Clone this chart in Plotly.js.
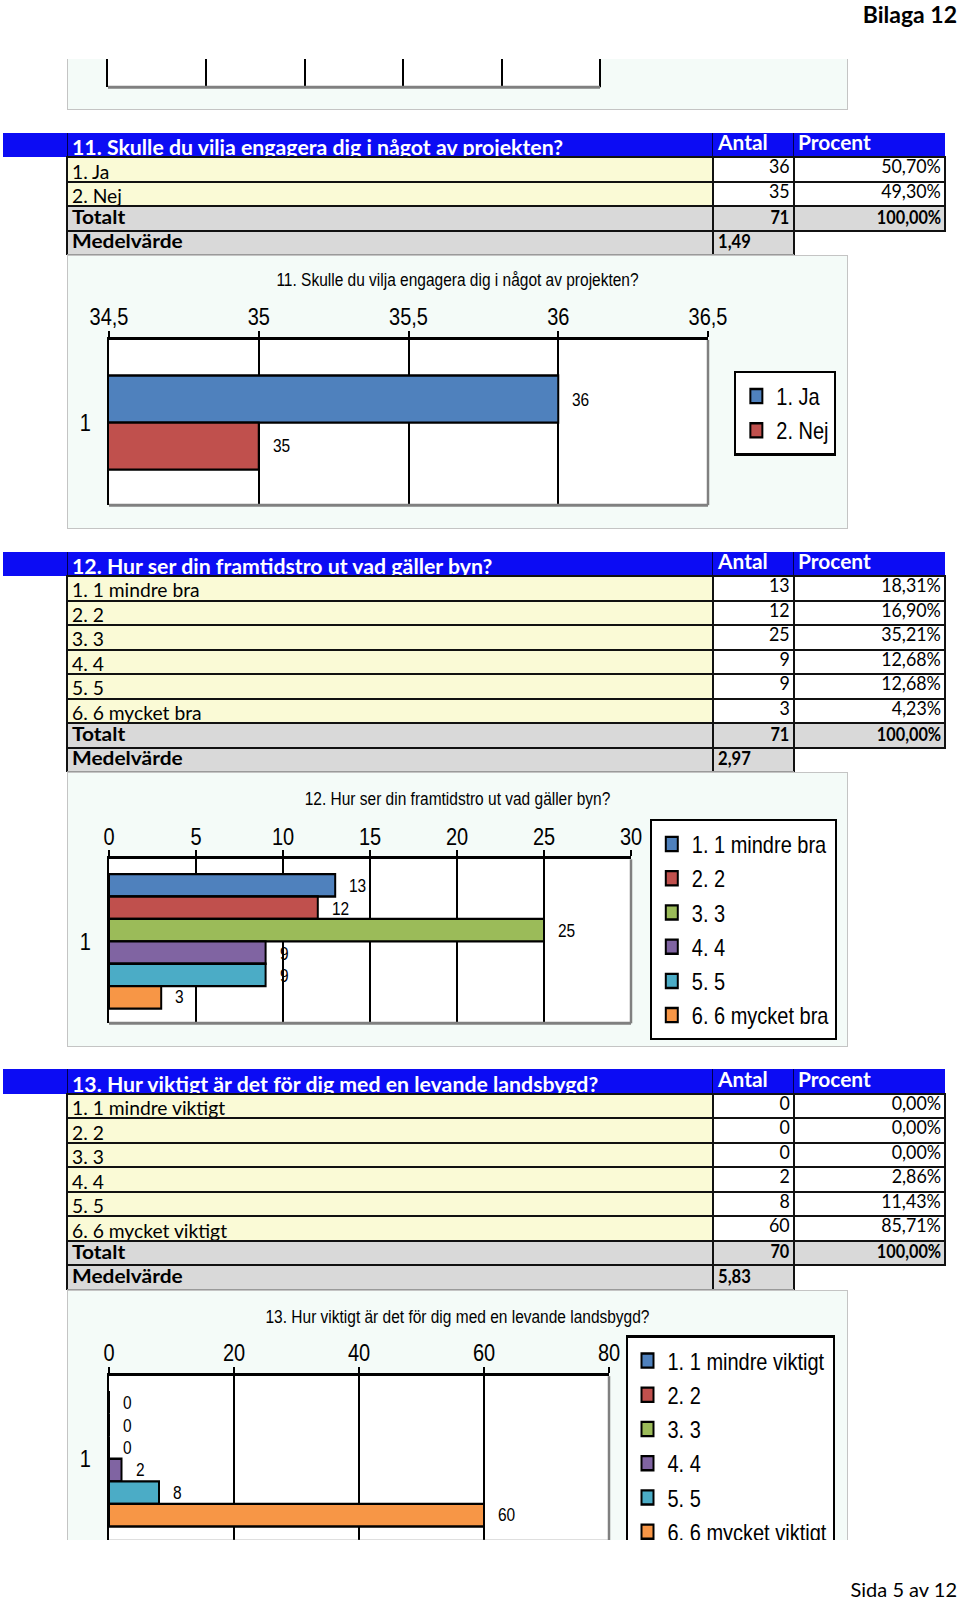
<!DOCTYPE html>
<html><head><meta charset="utf-8">
<script src="https://cdn.plot.ly/plotly-3.0.1.min.js"></script>
<style>
body{margin:0;background:#fff;}
#page{position:relative;width:960px;height:1601px;overflow:hidden;background:#fff;}
</style></head>
<body><div id="page"></div>
<script>
// ---------- DATA ----------
const q11Title = "11. Skulle du vilja engagera dig i något av projekten?";
const q11Labels = ["1. Ja", "2. Nej"];
const q11Counts = [36, 35];
const q11Pct = ["50,70%", "49,30%"];
const q11Total = 71, q11TotalPct = "100,00%", q11Mean = "1,49";
const q11Range = [34.5, 36.5], q11Dtick = 0.5;

const q12Title = "12. Hur ser din framtidstro ut vad gäller byn?";
const q12Labels = ["1. 1 mindre bra", "2. 2", "3. 3", "4. 4", "5. 5", "6. 6 mycket bra"];
const q12Counts = [13, 12, 25, 9, 9, 3];
const q12Pct = ["18,31%", "16,90%", "35,21%", "12,68%", "12,68%", "4,23%"];
const q12Total = 71, q12TotalPct = "100,00%", q12Mean = "2,97";
const q12Range = [0, 30], q12Dtick = 5;

const q13Title = "13. Hur viktigt är det för dig med en levande landsbygd?";
const q13Labels = ["1. 1 mindre viktigt", "2. 2", "3. 3", "4. 4", "5. 5", "6. 6 mycket viktigt"];
const q13Counts = [0, 0, 0, 2, 8, 60];
const q13Pct = ["0,00%", "0,00%", "0,00%", "2,86%", "11,43%", "85,71%"];
const q13Total = 70, q13TotalPct = "100,00%", q13Mean = "5,83";
const q13Range = [0, 80], q13Dtick = 20;

const categoryTick = ["1"];
const seriesColors = ["#4F81BD", "#C0504D", "#9BBB59", "#8064A2", "#4BACC6", "#F79646"];

// ---------- HELPERS ----------
const S = 1.18; // vertical stretch of the chart pictures
const page = document.getElementById('page');
const BLUE = '#0c0cf4', YEL = '#fafad6', GRAY = '#d9d9d9', MINT = '#f4fbf8';
const TFONT = "Lato, 'Open Sans', sans-serif";
function el(css, parent) { const e = document.createElement('div'); Object.assign(e.style, css); (parent || page).appendChild(e); return e; }
function box(x, y, w, h, bg, parent) { return el({position:'absolute', left:x+'px', top:y+'px', width:w+'px', height:h+'px', background:bg}, parent); }
function txt(s, x, yc, o) {
  const sx = o.sx || 1, sy = o.sy || 1;
  const right = o.align === 'right';
  const css = {position:'absolute', top:yc+'px', whiteSpace:'nowrap', lineHeight:'1',
    fontFamily:o.font || TFONT, fontSize:o.size+'px', fontWeight:o.bold ? '700' : '400',
    color:o.color || '#000', transformOrigin:(right ? 'right' : 'left') + ' center',
    transform:'translateY(-50%) scale(' + sx + ',' + sy + ')'};
  if (right) css.right = (960 - x) + 'px'; else css.left = x + 'px';
  const e = el(css); e.textContent = s; return e;
}

// ---------- TABLES ----------
const X0 = 67.4, X1 = 712.9, X2 = 793.6, X3 = 944.7, RH = 24.5;
const LAB = {size:18, sx:1.07, sy:1.05}, NUM = {size:17, sx:1.05, sy:1.08, align:'right'};
const BLAB = {size:18.5, sx:1.13, sy:1.05, bold:true}, BNUM = {size:17.5, sx:0.93, sy:1.05, bold:true, align:'right'};
function table(top, title, labels, counts, pcts, total, totalPct, mean) {
  box(3, top, X3 - 3, RH, BLUE);
  [X0, X1, X2].forEach(x => box(x - 0.5, top, 1, RH, '#000050'));
  txt(title, 71.5, top + 14.6, {size:19, sx:1.12, sy:1.08, bold:true, color:'#fff'});
  txt('Antal', 718, top + 9.5, {size:19, sx:1.1, sy:1.08, bold:true, color:'#fff'});
  txt('Procent', 797.6, top + 9.5, {size:19, sx:1.1, sy:1.08, bold:true, color:'#fff'});
  let y = top + RH;
  labels.forEach((lab, i) => {
    box(X0, y, X1 - X0, RH, YEL);
    box(X1, y, X3 - X1, RH, '#fff');
    txt(lab, 71.5, y + 14.4, LAB);
    txt(String(counts[i]), X2 - 4, y + 9, NUM);
    txt(pcts[i], X3 - 4, y + 9, NUM);
    y += RH;
  });
  box(X0, y, X3 - X0, RH, GRAY);
  txt('Totalt', 71.5, y + 11, BLAB);
  txt(String(total), X2 - 4, y + 10.5, BNUM);
  txt(totalPct, X3 - 4, y + 10.5, BNUM);
  y += RH;
  const medTop = y;
  box(X0, y, X2 - X0, RH, GRAY);
  txt('Medelvärde', 71.5, y + 10.5, BLAB);
  txt(mean, 718, y + 10.5, {size:17.5, sx:0.95, sy:1.05, bold:true});
  const bottom = y + RH;
  for (let k = 0; k <= labels.length + 1; k++) box(X0 - 1, top + RH * (k + 1) - 1, X3 - X0 + 2, 2, '#111');
  [X0, X1, X2, X3].forEach(x => box(x - 1, top + RH, 2, medTop - top - RH, '#111'));
  [X0, X1, X2].forEach(x => box(x - 1, medTop, 2, RH, '#111'));
  box(X0, bottom - 1, X2 - X0, 1, '#9a9a9a');
}

// ---------- CHARTS ----------
function chart(cfg) {
  const W = 781;
  const outer = el({position:'absolute', left:'67px', top:cfg.top+'px', width:W+'px', height:cfg.clip+'px', overflow:'hidden', background:MINT});
  const inner = el({position:'absolute', left:'0px', top:'0px', width:W+'px', height:(cfg.H/S)+'px', transform:'scaleY(' + S + ')', transformOrigin:'0 0'}, outer);
  el({position:'absolute', left:'0px', top:'0px', width:W+'px', height:cfg.H+'px', boxSizing:'border-box', border:'1.5px solid #c4c4c4', pointerEvents:'none'}, outer);
  const n = cfg.labels.length;
  const gap = cfg.bargap;
  const w = (1 - gap) / n;
  const traces = cfg.labels.map((lab, i) => ({
    type:'bar', orientation:'h', y:[0], x:[cfg.values[i]], name:lab,
    marker:{color:seriesColors[i], line:{color:'#000', width:2}}, hoverinfo:'skip'
  }));
  const annotations = cfg.values.map((v, i) => ({
    x:v, y:-(1 - gap) / 2 + w * (i + 0.5), xref:'x', yref:'y', text:String(v),
    showarrow:false, xanchor:'left', yanchor:'middle', xshift:12,
    font:{size:15.5, color:'#000', family:'Liberation Sans, Arial, sans-serif'}
  }));
  const layout = {
    width:W, height:cfg.H / S,
    margin:{l:cfg.l, r:cfg.r, t:cfg.t / S, b:cfg.b / S, pad:0, autoexpand:false},
    paper_bgcolor:'rgba(0,0,0,0)', plot_bgcolor:'#fff',
    font:{family:'Liberation Sans, Arial, sans-serif', color:'#000', size:20},
    separators:', ',
    title:{text:cfg.title, font:{size:15.5, color:'#000'}, x:0.5, xref:'container', xanchor:'center',
           y:1 - cfg.titleOff / cfg.H, yref:'container', yanchor:'middle'},
    barmode:'group', bargap:gap, bargroupgap:0,
    xaxis:{side:'top', range:cfg.range, tick0:cfg.range[0], dtick:cfg.dtick, showgrid:true, gridcolor:'#000', gridwidth:2,
           showline:true, linecolor:'#000', linewidth:2.5, ticks:'outside', ticklen:5, tickwidth:2, tickcolor:'#000',
           zeroline:false, tickfont:{size:20}, ticklabelstandoff:-3, fixedrange:true, automargin:false},
    yaxis:{range:[0.5, -0.5], tickvals:[0], ticktext:categoryTick, showline:true, linecolor:'#000', linewidth:2,
           ticks:'', showgrid:false, zeroline:false, tickfont:{size:20}, ticklabelstandoff:12, fixedrange:true, automargin:false},
    showlegend:true,
    legend:{x:cfg.lx, y:cfg.ly, xanchor:'left', yanchor:'top', bgcolor:'#fff', bordercolor:'#000', borderwidth:2,
            font:{size:20}, traceorder:'normal', itemwidth:30, maxheight:600},
    shapes:[
      {type:'line', xref:'paper', yref:'paper', x0:1, x1:1, y0:0, y1:1, line:{color:'#808080', width:2.5}, layer:'above'},
      {type:'line', xref:'paper', yref:'paper', x0:0, x1:1, y0:0, y1:0, line:{color:'#808080', width:2.5}, layer:'above'}
    ],
    annotations:annotations
  };
  Plotly.newPlot(inner, traces, layout, {staticPlot:true, displayModeBar:false});
}

// ---------- TOP FRAGMENT (previous chart, cut off) ----------
(function(){
  const outer = el({position:'absolute', left:'67px', top:'59px', width:'781px', height:'51px', overflow:'hidden', background:MINT,
    boxSizing:'border-box', borderLeft:'1.5px solid #c4c4c4', borderRight:'1.5px solid #c4c4c4', borderBottom:'1.5px solid #c4c4c4'});
  const inner = el({position:'absolute', left:'0px', top:'0px', width:'781px', height:(51/S)+'px', transform:'scaleY(' + S + ')', transformOrigin:'0 0'}, outer);
  Plotly.newPlot(inner, [], {
    width:781, height:51/S, margin:{l:40.2, r:248.5, t:0, b:22/S, pad:0, autoexpand:false},
    paper_bgcolor:'rgba(0,0,0,0)', plot_bgcolor:'#fff', showlegend:false,
    xaxis:{range:[0,5], dtick:1, showgrid:true, gridcolor:'#000', gridwidth:2, showticklabels:false, zeroline:false, showline:false, ticks:''},
    yaxis:{range:[0,1], showgrid:false, showticklabels:false, zeroline:false, showline:true, linecolor:'#000', linewidth:2, ticks:''},
    shapes:[
      {type:'line', xref:'paper', yref:'paper', x0:1, x1:1, y0:0, y1:1, line:{color:'#000', width:2}, layer:'above'},
      {type:'line', xref:'paper', yref:'paper', x0:0, x1:1, y0:0, y1:0, line:{color:'#808080', width:2.5}, layer:'above'}
    ]
  }, {staticPlot:true, displayModeBar:false});
})();

// ---------- PAGE ----------
txt('Bilaga 12', 957, 13.5, {size:23, bold:true, align:'right'});
txt('Sida 5 av 12', 957, 1589, {size:20, align:'right'});

table(132.8, q11Title, q11Labels, q11Counts, q11Pct, q11Total, q11TotalPct, q11Mean);
chart({top:255.3, H:273.7, clip:273.7, l:42.3, r:140.2, t:84.7, b:23.5, titleOff:24.5,
       title:q11Title, labels:q11Labels, values:q11Counts, range:q11Range, dtick:q11Dtick, bargap:0.43, lx:1.044, ly:0.814});

table(551.5, q12Title, q12Labels, q12Counts, q12Pct, q12Total, q12TotalPct, q12Mean);
chart({top:772, H:275, clip:275, l:42.3, r:216.8, t:87, b:23.7, titleOff:26.5,
       title:q12Title, labels:q12Labels, values:q12Counts, range:q12Range, dtick:q12Dtick, bargap:0.18, lx:1.036, ly:1.248});

table(1069.4, q13Title, q13Labels, q13Counts, q13Pct, q13Total, q13TotalPct, q13Mean);
chart({top:1290, H:275, clip:250, l:42.3, r:239.3, t:85.7, b:24, titleOff:26.5,
       title:q13Title, labels:q13Labels, values:q13Counts, range:q13Range, dtick:q13Dtick, bargap:0.18, lx:1.033, ly:1.248});
</script>
</body></html>
